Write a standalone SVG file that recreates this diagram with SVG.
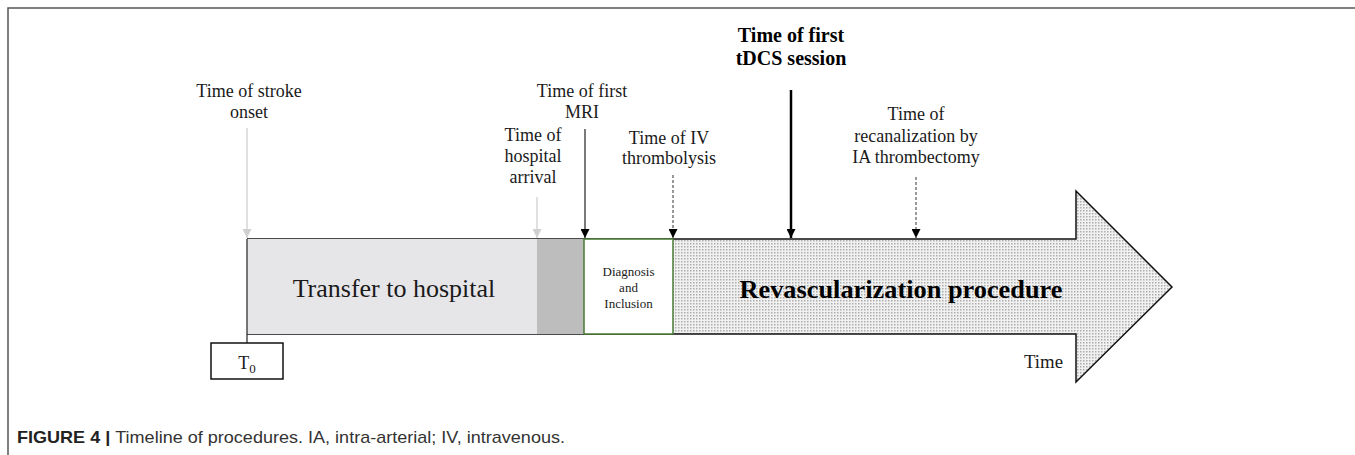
<svg xmlns="http://www.w3.org/2000/svg" width="1355" height="455" viewBox="0 0 1355 455">
<style>
.lbl{font-family:"Liberation Serif","Times New Roman",serif;font-size:18px;fill:#1a1a1a;text-anchor:middle}
.bold{font-weight:bold;font-size:20px;fill:#000}
.cap{font-family:"Liberation Sans",Arial,sans-serif;font-size:17px;fill:#333}
</style>
<defs>
<pattern id="dots" width="3" height="3" patternUnits="userSpaceOnUse">
<rect width="3" height="3" fill="#f1f1f1"/>
<rect width="1.5" height="1.5" fill="#adadad"/>
</pattern>
<marker id="ahBlack" viewBox="0 0 10 10" refX="10" refY="5" markerWidth="10" markerHeight="9" markerUnits="userSpaceOnUse" orient="auto">
<path d="M0,0 L10,5 L0,10 z" fill="#000"/>
</marker>
<marker id="ahGray" viewBox="0 0 10 10" refX="10" refY="5" markerWidth="10" markerHeight="9" markerUnits="userSpaceOnUse" orient="auto">
<path d="M0,0 L10,5 L0,10 z" fill="#cfcfcf"/>
</marker>
</defs>
<rect width="1355" height="455" fill="#fff"/>
<g id="frame" stroke="#555" stroke-width="1.5" fill="none">
<path d="M8,455 L8,8 L1355,8"/>
</g>
<g id="revascularization">
<polygon points="673,239 1076,239 1076,191 1172,287 1076,382 1076,334 673,334" fill="url(#dots)"/>
<polyline points="247,239 1076,239 1076,191 1172,287 1076,382 1076,334 247,334" fill="none" stroke="#111" stroke-width="1.5"/>
<text x="901" y="298" class="lbl" style="font-size:26px;font-weight:bold;fill:#000" textLength="323" lengthAdjust="spacingAndGlyphs">Revascularization procedure</text>
<text x="1043.5" y="368" class="lbl" style="font-size:19px" textLength="39" lengthAdjust="spacingAndGlyphs">Time</text>
</g>
<g id="transfer">
<rect x="247" y="239" width="290" height="95" fill="#e6e5e8"/>
<text x="394" y="297" class="lbl" style="font-size:26px">Transfer to hospital</text>
</g>
<g id="arrival-period">
<rect x="537" y="239" width="47" height="95" fill="#bdbdbd"/>
</g>
<g id="diagnosis">
<rect x="584" y="239" width="89" height="95" fill="#fff" stroke="#4a7a34" stroke-width="1.5"/>
<text class="lbl" style="font-size:13px" x="628.5" y="276">Diagnosis</text>
<text class="lbl" style="font-size:13px" x="628.5" y="292">and</text>
<text class="lbl" style="font-size:13px" x="628.5" y="308">Inclusion</text>
</g>
<g id="t0">
<line x1="247" y1="239" x2="247" y2="343" stroke="#222" stroke-width="1.2"/>
<rect x="211" y="343" width="72" height="36" fill="#fff" stroke="#111" stroke-width="1.5"/>
<text class="lbl" x="247" y="369">T<tspan font-size="13" dy="4">0</tspan></text>
</g>
<g id="label-stroke">
<text class="lbl" x="249" y="97">Time of stroke</text>
<text class="lbl" x="249" y="118">onset</text>
</g>
<g id="label-arrival">
<text class="lbl" x="533" y="141">Time of</text>
<text class="lbl" x="533" y="162">hospital</text>
<text class="lbl" x="533" y="183">arrival</text>
</g>
<g id="label-mri">
<text class="lbl" x="582" y="97">Time of first</text>
<text class="lbl" x="582" y="118">MRI</text>
</g>
<g id="label-iv">
<text class="lbl" x="669" y="144">Time of IV</text>
<text class="lbl" x="669" y="164">thrombolysis</text>
</g>
<g id="label-tdcs">
<text class="lbl bold" x="791" y="42">Time of first</text>
<text class="lbl bold" x="791" y="65">tDCS session</text>
</g>
<g id="label-recanalization">
<text class="lbl" x="916" y="120">Time of</text>
<text class="lbl" x="916" y="142">recanalization by</text>
<text class="lbl" x="916" y="163">IA thrombectomy</text>
</g>
<g id="connectors" fill="none">
<line x1="247" y1="128" x2="247" y2="238" stroke="#d6d6d6" stroke-width="1.5" marker-end="url(#ahGray)"/>
<line x1="537" y1="197" x2="537" y2="238" stroke="#d6d6d6" stroke-width="1.5" marker-end="url(#ahGray)"/>
<line x1="585" y1="129" x2="585" y2="238" stroke="#333" stroke-width="1.3" marker-end="url(#ahBlack)"/>
<line x1="673" y1="175" x2="673" y2="238" stroke="#333" stroke-width="1" stroke-dasharray="3,2" marker-end="url(#ahBlack)"/>
<line x1="791" y1="90" x2="791" y2="238" stroke="#000" stroke-width="2.5" marker-end="url(#ahBlack)"/>
<line x1="916" y1="177" x2="916" y2="238" stroke="#333" stroke-width="1" stroke-dasharray="3,2" marker-end="url(#ahBlack)"/>
</g>
<g id="caption">
<text class="cap" x="17" y="443" textLength="548" lengthAdjust="spacingAndGlyphs"><tspan font-weight="bold" fill="#222">FIGURE 4 | </tspan>Timeline of procedures. IA, intra-arterial; IV, intravenous.</text>
</g>
</svg>
